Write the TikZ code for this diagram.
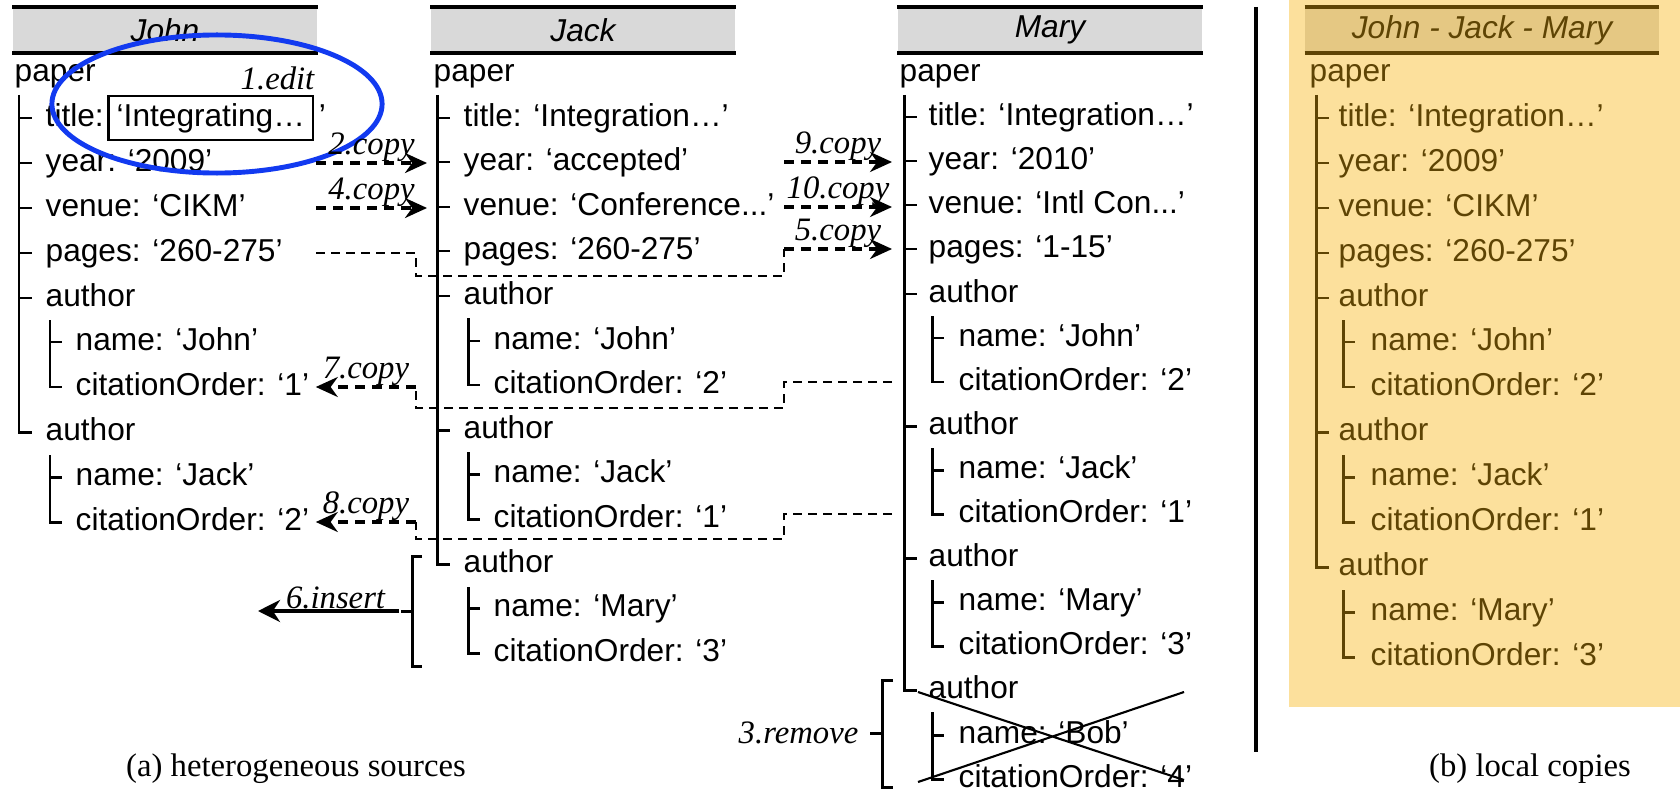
\documentclass[tikz,border=0pt]{standalone}
\usepackage{fontspec}
\setmainfont{Liberation Sans}
\newfontfamily\opfont{Liberation Serif}
\usepackage{xcolor}
\usepackage{tikz}
\usetikzlibrary{arrows.meta,positioning,calc}

\definecolor{headgray}{RGB}{217,217,217}
\definecolor{editblue}{RGB}{18,58,240}
\definecolor{panelyellow}{RGB}{252,224,156}
\definecolor{panelhead}{RGB}{229,200,131}
\definecolor{localbrown}{RGB}{94,68,4}

\begin{document}
\begin{tikzpicture}[
  x=0.01cm, y=-0.01cm,
  item/.style={anchor=west, inner sep=0pt, text height=0.23cm, text depth=0.07cm, font=\fontsize{9}{11}\selectfont},
  lcitem/.style={item, text=localbrown},
  editbox/.style={item, draw, line width=0.7pt, inner xsep=0.08cm, inner ysep=0.07cm},
  headbox/.style={fill=headgray, minimum width=3.04cm, minimum height=0.45cm, inner sep=0pt, font=\fontsize{9}{11}\selectfont\itshape},
  headline/.style={line width=1.2pt},
  tree/.style={line width=0.85pt},
  route/.style={line width=0.8pt, dash pattern=on 0.09cm off 0.06cm},
  cparrow/.style={line width=0.9pt, dash pattern=on 0.1cm off 0.07cm, -{Stealth[length=0.22cm, width=0.2cm]}},
  insarrow/.style={line width=1.2pt, -{Stealth[length=0.22cm, width=0.22cm]}},
  oplabel/.style={font=\fontsize{9.3}{11}\selectfont\opfont\itshape, inner sep=0pt},
  captext/.style={font=\fontsize{9.3}{11}\selectfont\opfont},
  crossline/.style={line width=0.6pt}
]
\useasboundingbox (0,0) rectangle (1680,794);
\fill[panelyellow] (1289,0) rectangle (1680,707);

% source John
\node[headbox] (h-john) at (165,30) {John};
\draw[headline] (h-john.north west) -- (h-john.north east) (h-john.south west) -- (h-john.south east);
\node[item] (jo-paper) at (14,73) {paper};
\node[item] (jo-title) at (45,118) {title:};
\node[editbox, right=0.03cm of jo-title] (jo-edit) {‘Integrating…};
\node[item, right=0.04cm of jo-edit] (jo-quote) {’};
\node[item] (jo-year) at (45,163) {year: ‘2009’};
\node[item] (jo-venue) at (45,208) {venue: ‘CIKM’};
\node[item] (jo-pages) at (45,253) {pages: ‘260-275’};
\node[item] (jo-au1) at (45,298) {author};
\node[item] (jo-name1) at (75,342) {name: ‘John’};
\node[item] (jo-ord1) at (75,387) {citationOrder: ‘1’};
\node[item] (jo-au2) at (45,432) {author};
\node[item] (jo-name2) at (75,477) {name: ‘Jack’};
\node[item] (jo-ord2) at (75,522) {citationOrder: ‘2’};
\draw[tree] (19,95) -- (19,432) -- (32,432)
  (19,118) -- (32,118) (19,163) -- (32,163) (19,208) -- (32,208) (19,253) -- (32,253) (19,298) -- (32,298)
  (50,320) -- (50,387) -- (62,387) (50,342) -- (62,342)
  (50,455) -- (50,522) -- (62,522) (50,477) -- (62,477);
\draw[editblue, line width=1.4pt] (217,104) ellipse [x radius=1.65cm, y radius=0.69cm];
\node[oplabel, anchor=east] (edit-label) at (315,78) {1.edit};

% source Jack
\node[headbox] (h-jack) at (583,30) {Jack};
\draw[headline] (h-jack.north west) -- (h-jack.north east) (h-jack.south west) -- (h-jack.south east);
\node[item] (ja-paper) at (433,73) {paper};
\node[item] (ja-title) at (463,118) {title: ‘Integration…’};
\node[item] (ja-year) at (463,162) {year: ‘accepted’};
\node[item] (ja-venue) at (463,207) {venue: ‘Conference...’};
\node[item] (ja-pages) at (463,251) {pages: ‘260-275’};
\node[item] (ja-au1) at (463,296) {author};
\node[item] (ja-name1) at (493,341) {name: ‘John’};
\node[item] (ja-ord1) at (493,385) {citationOrder: ‘2’};
\node[item] (ja-au2) at (463,430) {author};
\node[item] (ja-name2) at (493,474) {name: ‘Jack’};
\node[item] (ja-ord2) at (493,519) {citationOrder: ‘1’};
\node[item] (ja-au3) at (463,564) {author};
\node[item] (ja-name3) at (493,608) {name: ‘Mary’};
\node[item] (ja-ord3) at (493,653) {citationOrder: ‘3’};
\draw[tree] (437,95) -- (437,564) -- (450,564)
  (437,118) -- (450,118) (437,162) -- (450,162) (437,207) -- (450,207) (437,251) -- (450,251)
  (437,296) -- (450,296) (437,430) -- (450,430)
  (468,318) -- (468,385) -- (480,385) (468,341) -- (480,341)
  (468,452) -- (468,519) -- (480,519) (468,474) -- (480,474)
  (468,587) -- (468,653) -- (480,653) (468,608) -- (480,608);

% source Mary
\node[headbox] (h-mary) at (1050,30) {Mary};
\draw[headline] (h-mary.north west) -- (h-mary.north east) (h-mary.south west) -- (h-mary.south east);
\node[item] (ma-paper) at (899,73) {paper};
\node[item] (ma-title) at (928,117) {title: ‘Integration…’};
\node[item] (ma-year) at (928,161) {year: ‘2010’};
\node[item] (ma-venue) at (928,205) {venue: ‘Intl Con...’};
\node[item] (ma-pages) at (928,249) {pages: ‘1-15’};
\node[item] (ma-au1) at (928,294) {author};
\node[item] (ma-name1) at (958,338) {name: ‘John’};
\node[item] (ma-ord1) at (958,382) {citationOrder: ‘2’};
\node[item] (ma-au2) at (928,426) {author};
\node[item] (ma-name2) at (958,470) {name: ‘Jack’};
\node[item] (ma-ord2) at (958,514) {citationOrder: ‘1’};
\node[item] (ma-au3) at (928,558) {author};
\node[item] (ma-name3) at (958,602) {name: ‘Mary’};
\node[item] (ma-ord3) at (958,646) {citationOrder: ‘3’};
\node[item] (ma-au4) at (928,690) {author};
\node[item] (ma-name4) at (958,735) {name: ‘Bob’};
\node[item] (ma-ord4) at (958,779) {citationOrder: ‘4’};
\draw[tree] (904,95) -- (904,690) -- (917,690)
  (904,117) -- (917,117) (904,161) -- (917,161) (904,205) -- (917,205) (904,249) -- (917,249)
  (904,294) -- (917,294) (904,426) -- (917,426) (904,558) -- (917,558)
  (932,316) -- (932,382) -- (944,382) (932,338) -- (944,338)
  (932,448) -- (932,514) -- (944,514) (932,470) -- (944,470)
  (932,580) -- (932,646) -- (944,646) (932,602) -- (944,602)
  (932,712) -- (932,779) -- (944,779) (932,735) -- (944,735);
\draw[crossline] (918,692) -- (1184,780) (918,782) -- (1184,692);

% copy operations
\coordinate (jo-out) at (316,0);
\coordinate (ja-step) at (416,0);
\coordinate (ja-out) at (784,0);
\coordinate (ja-in) at ($(ja-title.west)+(-36,0)$);
\coordinate (ma-in) at ($(ma-title.west)+(-36,0)$);
\coordinate (jo-tip1) at ($(jo-ord1.east)+(6,0)$);
\coordinate (jo-tip2) at ($(jo-ord2.east)+(6,0)$);
\coordinate (d5) at (784,276);
\coordinate (d7) at (416,408);
\coordinate (d8) at (416,539);

\draw[cparrow] (jo-year -| jo-out) -- (jo-year -| ja-in) node[oplabel, midway, above] {2.copy};
\draw[cparrow] (jo-venue -| jo-out) -- (jo-venue -| ja-in) node[oplabel, midway, above] {4.copy};
\draw[cparrow] (ja-year -| ja-out) -- (ja-year -| ma-in) node[oplabel, midway, above] {9.copy};
\draw[cparrow] (ja-venue -| ja-out) -- (ja-venue -| ma-in) node[oplabel, midway, above] {10.copy};

\draw[route] (jo-pages -| jo-out) -- (jo-pages -| ja-step) |- (d5) -| (ma-pages -| ja-out);
\draw[cparrow] (ma-pages -| ja-out) -- (ma-pages -| ma-in) node[oplabel, midway, above] {5.copy};

\draw[route] (ma-ord1 -| ma-in) -- (ma-ord1 -| ja-out) |- (d7) -| (jo-ord1 -| ja-step);
\draw[cparrow] (jo-ord1 -| ja-step) -- (jo-ord1 -| jo-tip1) node[oplabel, midway, above] {7.copy};

\draw[route] (ma-ord2 -| ma-in) -- (ma-ord2 -| ja-out) |- (d8) -| (jo-ord2 -| ja-step);
\draw[cparrow] (jo-ord2 -| ja-step) -- (jo-ord2 -| jo-tip2) node[oplabel, midway, above] {8.copy};

% insert and remove
\draw[tree] (422,556) -- (412,556) -- (412,666) -- (422,666) (412,611) -- (401,611);
\coordinate (ins) at (399,611);
\coordinate (ins-end) at (258,611);
\draw[insarrow] (ins) -- (ins-end) node[oplabel, pos=0.45, above] {6.insert};

\draw[tree] (893,680) -- (882,680) -- (882,787) -- (893,787) (882,733) -- (870,733);
\coordinate (rm) at (870,733);
\node[oplabel, left=0.11cm of rm] (rm-label) {3.remove};

\draw[line width=1.2pt] (1256,7) -- (1256,752);

% local copies
\node[headbox, fill=panelhead, text=localbrown, minimum width=3.53cm] (h-local) at (1482,30) {John - Jack - Mary};
\draw[headline, localbrown] (h-local.north west) -- (h-local.north east) (h-local.south west) -- (h-local.south east);
\node[lcitem] (lc-paper) at (1309,73) {paper};
\node[lcitem] (lc-title) at (1338,118) {title: ‘Integration…’};
\node[lcitem] (lc-year) at (1338,163) {year: ‘2009’};
\node[lcitem] (lc-venue) at (1338,208) {venue: ‘CIKM’};
\node[lcitem] (lc-pages) at (1338,253) {pages: ‘260-275’};
\node[lcitem] (lc-au1) at (1338,298) {author};
\node[lcitem] (lc-name1) at (1370,342) {name: ‘John’};
\node[lcitem] (lc-ord1) at (1370,387) {citationOrder: ‘2’};
\node[lcitem] (lc-au2) at (1338,432) {author};
\node[lcitem] (lc-name2) at (1370,477) {name: ‘Jack’};
\node[lcitem] (lc-ord2) at (1370,522) {citationOrder: ‘1’};
\node[lcitem] (lc-au3) at (1338,567) {author};
\node[lcitem] (lc-name3) at (1370,612) {name: ‘Mary’};
\node[lcitem] (lc-ord3) at (1370,657) {citationOrder: ‘3’};
\draw[tree, localbrown] (1316,95) -- (1316,567) -- (1329,567)
  (1316,118) -- (1329,118) (1316,163) -- (1329,163) (1316,208) -- (1329,208) (1316,253) -- (1329,253)
  (1316,298) -- (1329,298) (1316,432) -- (1329,432)
  (1343,320) -- (1343,387) -- (1355,387) (1343,342) -- (1355,342)
  (1343,455) -- (1343,522) -- (1355,522) (1343,477) -- (1355,477)
  (1343,590) -- (1343,657) -- (1355,657) (1343,612) -- (1355,612);

\node[captext] (cap-a) at (296,769) {(a) heterogeneous sources};
\node[captext] (cap-b) at (1530,769) {(b) local copies};

\end{tikzpicture}
\end{document}
